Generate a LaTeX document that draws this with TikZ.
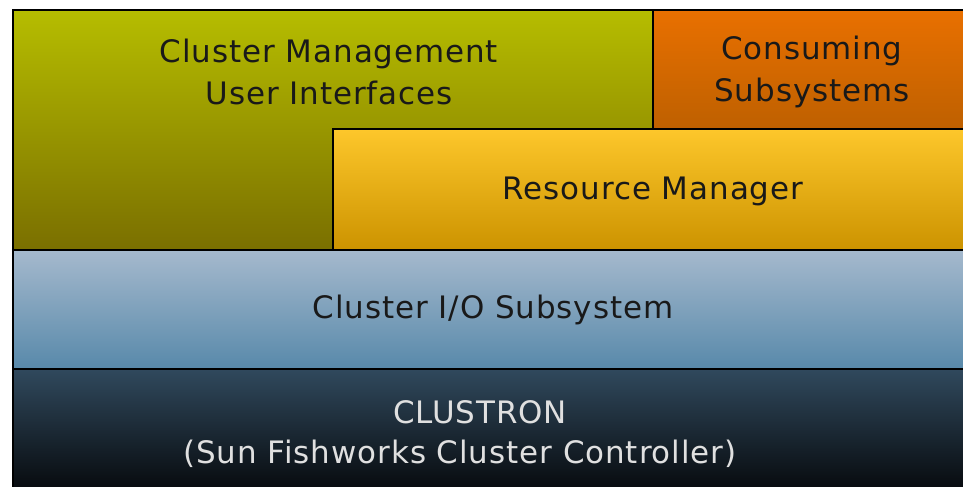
\documentclass[tikz,border=0pt]{standalone}
\usepackage{fontspec}
\setmainfont{DejaVu Sans}[LetterSpace=3]
\usetikzlibrary{positioning}
\definecolor{cmtop}{HTML}{B6BD00}
\definecolor{cmbot}{HTML}{7A6F00}
\definecolor{cstop}{HTML}{E97000}
\definecolor{csbot}{HTML}{BE6000}
\definecolor{rmtop}{HTML}{FDC72B}
\definecolor{rmbot}{HTML}{CC9300}
\definecolor{iotop}{HTML}{A5B9CD}
\definecolor{iobot}{HTML}{5889AA}
\definecolor{cltop}{HTML}{30495D}
\definecolor{clbot}{HTML}{040507}
\tikzset{
  px/.style={x=0.025cm, y=-0.025cm},
  layer/.style={draw=black, line width=1pt},
  frame/.style={draw=black, line width=1.6pt},
  lbl/.style={font=\fontsize{22}{29.8}\selectfont, text=black!90, align=center, inner sep=0pt},
  wlbl/.style={lbl, text=white!88!black},
}

\begin{document}
\begin{tikzpicture}[px]
  \useasboundingbox (0,0) rectangle (963,487);
  \clip (0,0) rectangle (963,487);

  % --- layers, top to bottom ---
  \shade[layer, top color=cmtop, bottom color=cmbot]
    (13,10) -- (653,10) -- (653,129) -- (333,129) -- (333,250) -- (13,250) -- cycle; % management UIs
  \shade[layer, top color=cstop, bottom color=csbot] (653,10) rectangle (975,129);   % consumers
  \shade[layer, top color=rmtop, bottom color=rmbot] (333,129) rectangle (975,250);  % resource mgr
  \shade[layer, top color=iotop, bottom color=iobot] (13,250) rectangle (975,369);   % cluster I/O
  \shade[layer, top color=cltop, bottom color=clbot] (13,369) rectangle (975,500);   % clustron

  % --- outer frame (cut at right and bottom) ---
  \draw[frame] (13,500) -- (13,10) -- (975,10);

  % --- labels ---
  \node[lbl] (cmui) at (329,72) {Cluster Management\\User Interfaces};
  \node[lbl] (cons) at (812,72) {Consuming\\Subsystems};
  \node[lbl] (rmgr) at (653,191) {Resource Manager};
  \node[lbl] (cio)  at (493,310) {Cluster I/O Subsystem};
  \node[wlbl] (clus) at (480,412) {CLUSTRON};
  \node[wlbl] (ctrl) at (460,454) {(Sun Fishworks Cluster Controller)};
\end{tikzpicture}
\end{document}
